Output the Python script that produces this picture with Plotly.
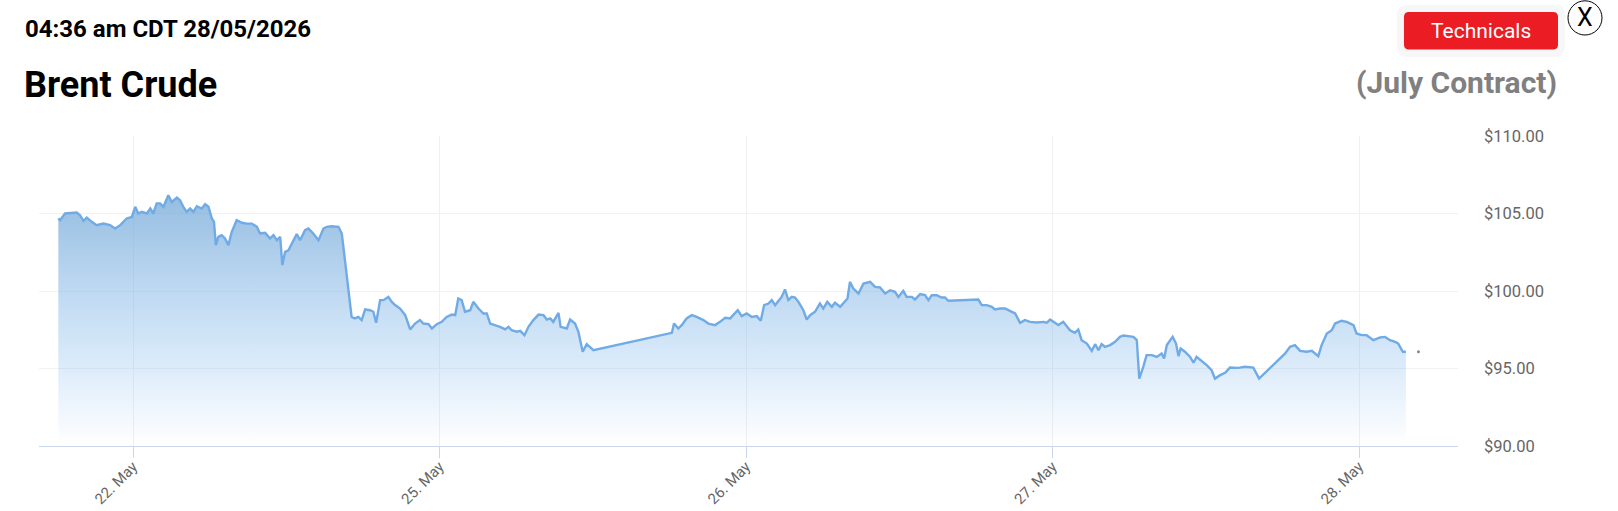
import plotly.graph_objects as go

# ---- data -------------------------------------------------------------
# trading-session position (0 = 22 May, 1 = 25 May, ...) and price in USD
session_pos = [
    -0.244, -0.238, -0.222, -0.206, -0.184, -0.173, -0.162, -0.151, -0.135, -0.119,
    -0.097, -0.075, -0.059, -0.042, -0.021, -0.004, 0.007, 0.017, 0.028, 0.045,
    0.056, 0.066, 0.077, 0.088, 0.099, 0.115, 0.126, 0.143, 0.153, 0.164,
    0.175, 0.186, 0.197, 0.208, 0.224, 0.235, 0.246, 0.257, 0.264, 0.270,
    0.278, 0.289, 0.300, 0.311, 0.322, 0.338, 0.355, 0.371, 0.387, 0.404,
    0.414, 0.431, 0.447, 0.458, 0.469, 0.480, 0.487, 0.496, 0.507, 0.518,
    0.534, 0.545, 0.561, 0.572, 0.588, 0.605, 0.621, 0.632, 0.648, 0.670,
    0.681, 0.713, 0.724, 0.735, 0.746, 0.757, 0.773, 0.784, 0.793, 0.806,
    0.817, 0.833, 0.844, 0.855, 0.871, 0.888, 0.904, 0.920, 0.936, 0.947,
    0.964, 0.975, 0.991, 1.007, 1.023, 1.040, 1.051, 1.061, 1.072, 1.083,
    1.100, 1.110, 1.127, 1.143, 1.154, 1.165, 1.181, 1.197, 1.214, 1.225,
    1.235, 1.252, 1.263, 1.277, 1.290, 1.306, 1.323, 1.339, 1.350, 1.361,
    1.371, 1.388, 1.395, 1.415, 1.426, 1.442, 1.453, 1.467, 1.480, 1.502,
    1.758, 1.765, 1.779, 1.790, 1.806, 1.823, 1.839, 1.861, 1.877, 1.899,
    1.915, 1.932, 1.948, 1.959, 1.973, 1.986, 2.002, 2.019, 2.035, 2.048,
    2.059, 2.073, 2.084, 2.095, 2.106, 2.116, 2.127, 2.138, 2.149, 2.160,
    2.171, 2.187, 2.198, 2.209, 2.225, 2.241, 2.252, 2.265, 2.280, 2.290,
    2.307, 2.323, 2.331, 2.339, 2.350, 2.367, 2.383, 2.405, 2.421, 2.437,
    2.454, 2.470, 2.486, 2.497,
    2.513, 2.524, 2.541, 2.551, 2.568, 2.584, 2.595, 2.606, 2.622, 2.638,
    2.649, 2.660, 2.758, 2.769, 2.785, 2.802, 2.812, 2.829, 2.845, 2.861,
    2.878, 2.894, 2.910, 2.927, 2.948, 2.970, 2.981, 2.992, 3.008, 3.019,
    3.035, 3.057, 3.073, 3.084, 3.095, 3.112, 3.128, 3.139, 3.150, 3.160,
    3.171, 3.188, 3.204, 3.220, 3.231, 3.247, 3.264, 3.275, 3.283, 3.296,
    3.307, 3.324, 3.340, 3.356, 3.364, 3.373, 3.392, 3.403, 3.411,
    3.418, 3.432, 3.449, 3.460, 3.470, 3.487, 3.503, 3.519, 3.530, 3.547,
    3.563, 3.579, 3.606, 3.628, 3.655, 3.674, 3.759, 3.775, 3.791, 3.808,
    3.829, 3.846, 3.867, 3.878, 3.895, 3.911, 3.922, 3.943, 3.960, 3.982,
    3.992, 4.009, 4.025, 4.047, 4.069, 4.085, 4.101, 4.118, 4.128, 4.143,
    4.153,
]

price = [
    104.68, 104.57, 105.00, 105.04, 105.06, 104.89, 104.53, 104.74, 104.46, 104.25,
    104.35, 104.25, 104.03, 104.25, 104.68, 104.78, 105.43, 105.00, 105.11, 105.00,
    105.32, 105.00, 105.65, 105.65, 105.43, 106.18, 105.75, 106.03, 105.86, 105.43,
    105.11, 105.32, 105.11, 105.47, 105.32, 105.60, 105.43, 104.68, 104.46, 102.96,
    103.49, 103.60, 103.39, 102.96, 103.82, 104.57, 104.40, 104.35, 104.35, 104.14,
    103.71, 103.75, 103.39, 103.60, 103.28, 103.49, 101.67, 102.53, 102.63, 103.06,
    103.67, 103.28, 103.92, 104.03, 103.71, 103.28, 104.03, 104.14, 104.18, 104.14,
    103.71, 98.33, 98.23, 98.33, 98.12, 98.81, 98.76, 98.66, 97.95, 99.41,
    99.41, 99.62, 99.30, 99.09, 98.87, 98.44, 97.52, 97.90, 98.12, 97.90,
    97.86, 97.58, 97.86, 98.01, 98.33, 98.48, 98.44, 99.52, 99.41, 98.66,
    98.76, 99.30, 98.87, 98.55, 98.55, 97.90, 97.80, 97.69, 97.52, 97.69,
    97.47, 97.37, 97.43, 97.15, 97.69, 98.12, 98.48, 98.44, 98.16, 98.23,
    98.01, 98.59, 97.69, 97.58, 98.16, 97.90, 97.37, 96.08, 96.57, 96.18,
    97.30, 97.90, 97.58, 97.80, 98.23, 98.44, 98.33, 98.12, 97.90, 97.80,
    98.01, 98.27, 98.23, 98.44, 98.76, 98.38, 98.55, 98.33, 98.38, 98.08,
    99.09, 99.19, 99.41, 99.09, 99.41, 99.62, 100.10, 99.41, 99.62, 99.58,
    99.30, 98.76, 98.16, 98.44, 98.66, 99.19, 98.87, 99.30, 98.98, 99.24,
    98.98, 99.37, 99.52, 100.59, 100.16, 99.84, 100.48, 100.59, 100.27, 100.23,
    99.84, 100.05, 99.95, 99.62,
    100.01, 99.62, 99.62, 99.45, 99.80, 99.73, 99.41, 99.73, 99.73, 99.58,
    99.58, 99.37, 99.45, 99.09, 99.09, 98.98, 98.81, 98.87, 98.87, 98.72,
    98.55, 97.95, 98.12, 98.01, 97.97, 98.01, 97.95, 98.16, 97.95, 97.80,
    98.01, 97.47, 97.30, 97.52, 96.83, 96.61, 96.14, 96.57, 96.18, 96.57,
    96.40, 96.51, 96.72, 97.04, 97.13, 97.09, 97.04, 96.83, 94.35, 95.11,
    95.86, 95.86, 95.75, 95.97, 95.65, 96.51, 97.04, 96.61, 95.80,
    96.29, 96.08, 95.75, 95.37, 95.75, 95.49, 95.22, 94.89, 94.35, 94.57,
    94.72, 95.06, 95.04, 95.11, 95.06, 94.35, 95.97, 96.40, 96.51, 96.14,
    96.08, 96.14, 95.80, 96.51, 97.26, 97.47, 97.90, 98.08, 98.01, 97.80,
    97.26, 97.15, 97.15, 96.83, 97.00, 97.04, 96.83, 96.72, 96.61, 96.08,
    96.08,
]

last_pos = [4.194]
last_price = [96.08]

tick_pos = [0, 1, 2, 3, 4]
tick_labels = ["22. May", "25. May", "26. May", "27. May", "28. May"]

price_ticks = [90, 95, 100, 105, 110]
price_tick_labels = ["$90.00", "$95.00", "$100.00", "$105.00", "$110.00"]

# ---- figure -----------------------------------------------------------
FONT = "Roboto, 'Noto Sans', Arial, sans-serif"

W, H = 1618, 511
# plot area in window pixels
PL, PR, PT, PB = 39, 1458, 136, 446
L, R, T, B = PL, W - PR, PT, H - PB
pw, ph = W - L - R, H - T - B


def px(xw):
    return (xw - L) / pw


def py(yw):
    return (H - B - yw) / ph


fig = go.Figure()

fig.add_trace(go.Scatter(
    x=session_pos, y=price, mode="lines",
    line=dict(color="#70abe6", width=2.4),
    fill="tozeroy",
    fillgradient=dict(
        type="vertical",
        start=90, stop=106.5,
        colorscale=[[0.0, "rgba(124,181,236,0.0)"],
                    [0.35, "rgba(124,181,236,0.30)"],
                    [1.0, "rgba(104,160,210,0.72)"]],
    ),
    hoverinfo="skip", showlegend=False,
))

fig.add_trace(go.Scatter(
    x=last_pos, y=last_price, mode="markers",
    marker=dict(color="#888888", size=3),
    hoverinfo="skip", showlegend=False,
))

fig.update_xaxes(
    range=[-0.307, 4.323],
    tickmode="array", tickvals=tick_pos, ticktext=tick_labels,
    tickangle=-45,
    tickfont=dict(family=FONT, size=15, color="#666666"),
    ticks="outside", ticklen=11, tickcolor="#ccd6eb", tickwidth=1,
    ticklabelstandoff=-6,
    showline=True, linecolor="#ccd6eb", linewidth=1,
    showgrid=True, gridcolor="#f0f0f0", gridwidth=1,
    zeroline=False, fixedrange=True, automargin=False,
)

fig.update_yaxes(
    range=[90, 110],
    side="right",
    tickmode="array", tickvals=price_ticks, ticktext=price_tick_labels,
    tickfont=dict(family=FONT, size=16.5, color="#666666"),
    ticklabelstandoff=25,
    showgrid=True, gridcolor="#f2f2f2", gridwidth=1,
    zeroline=False, showline=False, fixedrange=True, automargin=False,
)

annotations = [
    dict(text="<b>04:36 am CDT 28/05/2026</b>", x=px(23), y=py(29),
         xanchor="left", yanchor="middle",
         font=dict(family=FONT, size=24, color="#000000")),
    dict(text="<b>Brent Crude</b>", x=px(22), y=py(85),
         xanchor="left", yanchor="middle",
         font=dict(family=FONT, size=36, color="#000000")),
    dict(text="<b>(July Contract)</b>", x=px(1559), y=py(82),
         xanchor="right", yanchor="middle",
         font=dict(family=FONT, size=30, color="#808080")),
    dict(text="Technicals", x=px(1481), y=py(31),
         xanchor="center", yanchor="middle",
         font=dict(family=FONT, size=21, color="#ffffff")),
    dict(text="X", x=px(1585), y=py(17.5),
         xanchor="center", yanchor="middle",
         font=dict(family=FONT, size=25, color="#000000")),
]
for a in annotations:
    a.update(xref="paper", yref="paper", showarrow=False)


def rounded_rect(x0, y0, x1, y1, r):
    rx, ry = r / pw, r / ph
    X0, X1 = px(x0), px(x1)
    Y0, Y1 = py(y1), py(y0)  # bottom, top in paper
    return (f"M{X0+rx},{Y0} L{X1-rx},{Y0} Q{X1},{Y0} {X1},{Y0+ry} "
            f"L{X1},{Y1-ry} Q{X1},{Y1} {X1-rx},{Y1} L{X0+rx},{Y1} "
            f"Q{X0},{Y1} {X0},{Y1-ry} L{X0},{Y0+ry} Q{X0},{Y0} {X0+rx},{Y0} Z")


shapes = [
    dict(type="path", path=rounded_rect(1397, 5, 1565, 57, 10),
         fillcolor="rgba(0,0,0,0.03)", line=dict(width=0)),
    dict(type="path", path=rounded_rect(1404, 12, 1558, 49.5, 5),
         fillcolor="#ec1c24", line=dict(width=0)),
    dict(type="circle", x0=px(1568), x1=px(1602), y0=py(35), y1=py(0.8),
         fillcolor="#ffffff", line=dict(color="#000000", width=1)),
]
for s in shapes:
    s.update(xref="paper", yref="paper", layer="above")

fig.update_layout(
    width=W, height=H,
    margin=dict(l=L, r=R, t=T, b=B, pad=0, autoexpand=False),
    paper_bgcolor="#ffffff", plot_bgcolor="#ffffff",
    annotations=annotations, shapes=shapes,
    showlegend=False,
    font=dict(family=FONT),
)

# remove the browser's default 8px page margin so the figure fills the window
fig.write_html(
    "out.html",
    config={"displayModeBar": False, "staticPlot": True},
    post_script="document.body.style.margin='0px';document.body.style.overflow='hidden';",
)
